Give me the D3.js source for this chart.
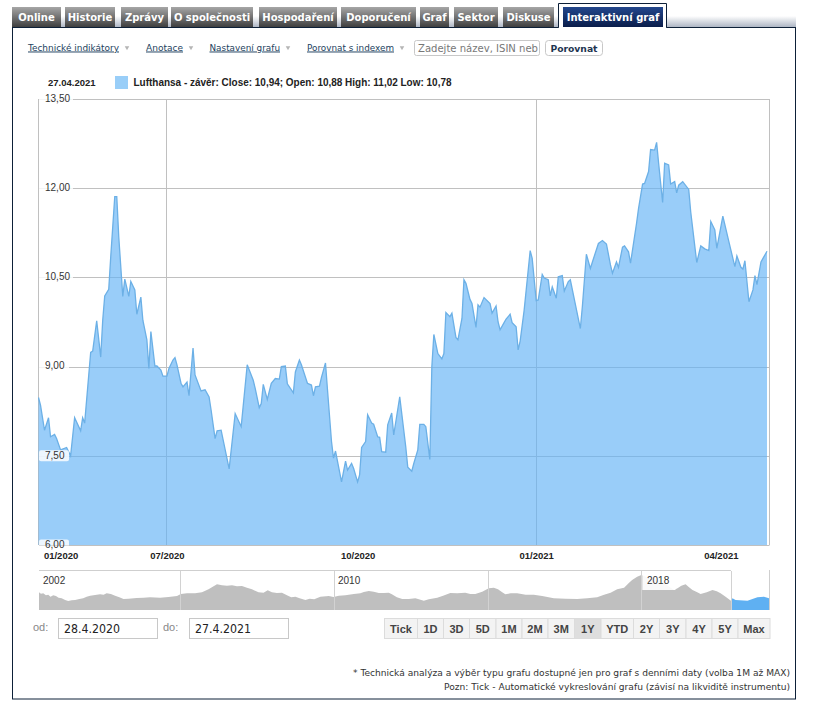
<!DOCTYPE html>
<html>
<head>
<meta charset="utf-8">
<script src="https://cdnjs.cloudflare.com/ajax/libs/d3/7.8.5/d3.min.js"></script>
<style>
body { margin: 0; background: #fff; }
svg { display: block; }
text { font-family: "Liberation Sans", Arial, sans-serif; }
</style>
</head>
<body>
<svg id="page" width="822" height="712"></svg>
<script>
// Closing prices, days counted from 28.4.2020
var startDate = new Date(2020, 3, 28)
var endDate = new Date(2021, 3, 27)
var dayOffsets = [
    0,1,3,5,6,8,9,11,14,16,
    18,21,22,23,26,27,29,31,32,33,
    35,36,38,39,40,42,43,45,46,48,
    49,51,52,54,55,56,58,59,61,62,
    64,65,67,68,69,71,72,74,75,77,
    78,81,83,85,86,88,89,91,95,98,
    101,104,107,108,110,111,112,114,116,118,
    120,121,123,124,127,128,130,131,134,136,
    137,138,140,141,143,144,146,147,148,151,
    153,154,156,157,159,160,161,163,164,166,
    167,169,170,171,173,174,176,177,180,183,
    184,186,187,189,190,192,193,195,196,197,
    199,201,202,203,205,206,208,209,211,212,
    213,215,216,218,219,220,222,225,226,228,
    229,230,232,233,235,236,238,239,240,242,
    245,246,248,249,251,252,254,255,256,258,
    259,261,262,264,265,270,271,273,275,276,
    279,281,283,285,286,288,289,291,292,294,
    295,298,299,301,302,304,305,307,308,309,
    311,312,314,315,317,318,319,321,324,325,
    328,330,332,334,335,337,338,341,344,347,
    348,350,351,352,354,356,357,358,360,361,363
]
var closes = [
    8.48,8.35,7.93,8.14,7.82,7.86,7.79,7.60,7.64,7.50,
    8.14,7.92,8.14,8.05,9.24,9.26,9.77,9.16,9.78,10.19,
    10.30,10.85,11.86,11.86,11.18,10.18,10.47,10.18,10.43,10.29,
    9.88,10.17,9.78,9.45,8.97,9.59,9.01,9.01,8.94,8.84,
    8.84,8.97,9.11,9.15,9.03,8.72,8.66,8.74,8.51,9.31,
    8.86,8.59,8.61,8.49,8.27,7.79,7.92,7.93,7.28,8.21,
    7.99,9.03,8.77,8.63,8.31,8.38,8.70,8.45,8.72,8.80,
    8.79,9.00,9.01,8.71,8.56,8.91,9.11,9.03,8.72,8.69,
    8.51,8.66,8.67,8.82,9.06,8.61,7.74,7.46,7.58,7.06,
    7.41,7.26,7.37,7.29,7.06,7.18,7.64,7.74,8.19,8.05,
    8.03,7.82,7.81,7.57,7.56,8.02,8.22,7.85,8.49,7.65,
    7.31,7.24,7.37,7.60,8.03,8.03,7.99,7.44,9.00,9.54,
    9.22,9.13,9.22,9.91,9.84,9.90,9.49,9.45,9.81,10.46,
    10.40,10.13,10.06,9.66,10.04,10.00,10.16,10.06,9.90,10.02,
    9.75,9.62,9.74,9.80,9.88,9.74,9.67,9.28,9.43,9.95,
    10.95,10.82,10.11,10.12,10.55,10.49,10.46,10.19,10.34,10.15,
    10.51,10.53,10.27,10.43,10.46,9.64,10.01,10.89,10.65,10.76,
    11.07,11.12,11.06,10.71,10.57,10.76,10.67,11.01,11.03,10.93,
    10.74,11.41,11.66,12.07,12.08,12.28,12.65,12.64,12.77,12.42,
    11.76,12.42,12.39,12.07,12.11,11.92,12.05,12.11,11.98,11.60,
    10.75,11.03,10.98,10.95,11.44,11.30,10.99,11.53,11.10,10.68,
    10.86,10.67,10.64,10.78,10.09,10.29,10.53,10.38,10.76,10.82,10.94
]
var yTicks = [6, 7.5, 9, 10.5, 12, 13.5]
var xLabels = ["01/2020", "07/2020", "10/2020", "01/2021", "04/2021"]
var xLabelDates = [new Date(2020, 4, 9), new Date(2020, 6, 1), new Date(2020, 9, 4), new Date(2021, 0, 1), new Date(2021, 3, 3)]
var xGridDates = [new Date(2020, 6, 1), new Date(2021, 0, 1)]

// Overview strip, whole history
var navYears = [
    2002.33,2002.38,2002.44,2002.51,2002.57,2002.63,2002.70,2002.77,2002.84,2002.92,
    2003.01,2003.09,2003.18,2003.27,2003.38,2003.48,2003.57,2003.66,2003.79,2003.92,
    2004.01,2004.09,2004.20,2004.31,2004.42,2004.53,2004.66,2004.87,2005.05,2005.22,
    2005.48,2005.70,2005.92,2006.02,2006.18,2006.39,2006.57,2006.74,2006.85,2006.96,
    2007.09,2007.22,2007.35,2007.48,2007.61,2007.74,2007.87,2008.04,2008.17,2008.28,
    2008.39,2008.52,2008.65,2008.78,2008.89,2009.00,2009.11,2009.26,2009.37,2009.49,
    2009.65,2009.87,2009.99,2010.13,2010.30,2010.52,2010.69,2010.78,2010.91,2011.04,
    2011.17,2011.30,2011.43,2011.51,2011.64,2011.78,2011.95,2012.12,2012.21,2012.34,
    2012.47,2012.69,2012.86,2013.03,2013.21,2013.42,2013.55,2013.68,2013.86,2014.03,
    2014.16,2014.27,2014.38,2014.46,2014.60,2014.77,2014.99,2015.20,2015.42,2015.72,
    2016.03,2016.33,2016.59,2016.85,2017.03,2017.20,2017.37,2017.55,2017.68,2017.76,
    2017.89,2018.00,2018.15,2018.50,2018.85,2018.94,2019.04,2019.15,2019.24,2019.33,
    2019.44,2019.54,2019.70,2019.85,2019.96,2020.06,2020.19,2020.33
]
var navValues = [
    14.7,13.6,13.9,12.2,12.8,11.1,12.2,11.7,10.3,9.7,
    8.3,7.5,8.1,8.3,9.2,9.7,11.1,11.9,12.5,13.1,
    12.8,13.9,13.3,11.9,10.6,9.2,9.4,10.0,10.3,10.6,
    10.3,10.8,11.7,13.3,13.9,13.9,14.7,17.2,19.4,21.4,
    20.6,20.3,20.6,19.7,20.0,18.6,17.2,14.7,14.4,16.4,
    14.7,14.2,14.4,12.2,10.6,11.1,9.7,8.3,9.4,8.9,
    11.1,11.7,10.8,11.9,12.2,13.3,13.9,15.0,15.8,15.3,
    14.2,14.2,14.4,13.1,10.6,9.2,9.2,9.7,8.9,7.8,
    8.9,10.3,12.0,14.2,13.9,14.4,13.3,13.3,15.3,18.1,
    18.6,17.2,14.7,13.1,13.9,13.9,12.8,12.8,11.7,9.7,
    9.4,9.2,9.7,10.6,12.8,14.4,17.2,18.6,22.8,25.0,
    27.8,29.2,27.2,24.4,16.7,18.1,20.3,21.4,19.0,16.7,
    15.0,13.3,14.7,16.7,15.6,13.9,11.1,7.8
]
var selYears = [2020.33,2020.37,2020.45,2020.76,2021.02,2021.19,2021.32]
var selValues = [7.8,9.7,8.3,7.8,10.6,11.1,9.7]
var navGridYears = [2006, 2010, 2014, 2018, 2020.33]
var navLabels = ["2002", "2010", "2018"]

// Page furniture
var tabs = ["Online", "Historie", "Zprávy", "O společnosti", "Hospodaření", "Doporučení", "Graf", "Sektor", "Diskuse"]
var toolLinks = ["Technické indikátory", "Anotace", "Nastavení grafu", "Porovnat s indexem"]
var rangeButtons = ["Tick", "1D", "3D", "5D", "1M", "2M", "3M", "1Y", "YTD", "2Y", "3Y", "4Y", "5Y", "Max"]

var svg = d3.select("#page")

var defs = svg.append("defs")
function gradient(id, top, bottom) {
    var g = defs.append("linearGradient").attr("id", id).attr("x1", 0).attr("x2", 0).attr("y1", 0).attr("y2", 1)
    g.append("stop").attr("offset", "0%").attr("stop-color", top)
    g.append("stop").attr("offset", "100%").attr("stop-color", bottom)
}
gradient("tabGrey", "#a6a6a6", "#3f3f3f")
gradient("tabBlue", "#23478d", "#0a1d4a")
gradient("band", "#ffffff", "#aeb6c4")
defs.append("clipPath").attr("id", "plotClip").append("rect")
    .attr("x", 38).attr("y", 90).attr("width", 733).attr("height", 455.5)

// Panel and tabs
svg.append("rect").attr("x", 12).attr("y", 16).attr("width", 784).attr("height", 11).attr("fill", "url(#band)")
svg.append("rect").attr("x", 12.5).attr("y", 27.5).attr("width", 783).attr("height", 671.5)
    .attr("fill", "#fff").attr("stroke", "#0d2038")

var tabLeft = [12, 65, 121, 171, 259, 341, 420, 454, 503]
var tabRight = [61, 115, 168, 253, 337, 416, 449, 498, 554]
tabs.forEach(function(name, i) {
    svg.append("rect").attr("x", tabLeft[i]).attr("y", 7).attr("width", tabRight[i] - tabLeft[i]).attr("height", 20)
        .attr("fill", "url(#tabGrey)")
    svg.append("text").attr("x", (tabLeft[i] + tabRight[i]) / 2).attr("y", 21).attr("text-anchor", "middle")
        .style("font-family", "'DejaVu Sans'").style("font-weight", "bold").style("font-size", "10px")
        .attr("fill", "#fff").text(name)
})
svg.append("path").attr("d", "M558.5,27.5V3.5H666.5V27.5").attr("fill", "#fff").attr("stroke", "#0d2038")
svg.append("rect").attr("x", 563).attr("y", 7).attr("width", 100).attr("height", 20).attr("fill", "url(#tabBlue)")
svg.append("rect").attr("x", 559).attr("y", 27).attr("width", 107).attr("height", 1).attr("fill", "#fff")
svg.append("text").attr("x", 613).attr("y", 21).attr("text-anchor", "middle")
    .style("font-family", "'DejaVu Sans'").style("font-weight", "bold").style("font-size", "10px")
    .attr("fill", "#fff").text("Interaktivní graf")

// Toolbar
var linkLeft = [28, 146, 209.5, 307]
var linkWidth = [91, 37, 70.5, 87]
toolLinks.forEach(function(name, i) {
    svg.append("text").attr("x", linkLeft[i]).attr("y", 50.5)
        .attr("textLength", linkWidth[i]).attr("lengthAdjust", "spacingAndGlyphs")
        .style("font-family", "'DejaVu Sans'").style("font-size", "9.5px")
        .attr("fill", "#1d3f5e").attr("text-decoration", "underline").text(name)
    svg.append("path").attr("d", d3.symbol().type(d3.symbolTriangle).size(9))
        .attr("transform", "translate(" + (linkLeft[i] + linkWidth[i] + 8) + ",47.5) rotate(180)")
        .attr("fill", "#b5b5b5")
})
svg.append("rect").attr("x", 414.5).attr("y", 40.5).attr("width", 125).attr("height", 15).attr("rx", 2)
    .attr("fill", "#fff").attr("stroke", "#c8c8c8")
svg.append("text").attr("x", 418).attr("y", 52).attr("textLength", 120).attr("lengthAdjust", "spacingAndGlyphs")
    .style("font-family", "'DejaVu Sans'").style("font-size", "10px").attr("fill", "#777").text("Zadejte název, ISIN neb")
svg.append("rect").attr("x", 545.5).attr("y", 40.5).attr("width", 57).attr("height", 15).attr("rx", 3)
    .attr("fill", "#fff").attr("stroke", "#c8c8c8")
svg.append("text").attr("x", 574).attr("y", 51.5).attr("text-anchor", "middle")
    .style("font-family", "'DejaVu Sans'").style("font-weight", "bold").style("font-size", "9.2px").attr("fill", "#1d3550").text("Porovnat")

// Legend
svg.append("text").attr("x", 48).attr("y", 86).style("font-weight", "bold").style("font-size", "9.5px").attr("fill", "#222").text("27.04.2021")
svg.append("rect").attr("x", 115).attr("y", 76).attr("width", 13).attr("height", 13).attr("fill", "#99cef8")
svg.append("text").attr("x", 133.5).attr("y", 86).attr("textLength", 318).attr("lengthAdjust", "spacingAndGlyphs")
    .style("font-weight", "bold").style("font-size", "10px").attr("fill", "#222")
    .text("Lufthansa - závěr: Close: 10,94; Open: 10,88 High: 11,02 Low: 10,78")

// Main chart
var points = dayOffsets.map(function(d, i) {
    return { date: d3.timeDay.offset(startDate, d), close: closes[i] }
})
var x = d3.scaleTime().domain([startDate, endDate]).range([38.5, 769])
var y = d3.scaleLinear().domain([6, 13.5]).range([545, 99])

var grid = svg.append("g").attr("stroke", "#c0c0c0").attr("fill", "none")
yTicks.forEach(function(t) {
    grid.append("line").attr("x1", 39).attr("x2", 769.5).attr("y1", Math.round(y(t)) + 0.5).attr("y2", Math.round(y(t)) + 0.5)
})
xGridDates.forEach(function(d) {
    grid.append("line").attr("x1", Math.floor(x(d)) + 0.5).attr("x2", Math.floor(x(d)) + 0.5).attr("y1", 99).attr("y2", 545)
})
grid.append("line").attr("x1", 38.5).attr("x2", 38.5).attr("y1", 99).attr("y2", 545)
grid.append("line").attr("x1", 769.5).attr("x2", 769.5).attr("y1", 99).attr("y2", 545)

var area = d3.area().x(function(d) { return x(d.date) }).y0(y(6)).y1(function(d) { return y(d.close) })
var line = d3.line().x(function(d) { return x(d.date) }).y(function(d) { return y(d.close) })
svg.append("path").datum(points).attr("d", area).attr("fill", "#62b2f6").attr("fill-opacity", 0.65)
svg.append("path").datum(points).attr("d", line).attr("fill", "none").attr("stroke", "#6cb0e6").attr("stroke-width", 1.3)

// Tick labels sit in small white boxes over the area
var boxes = svg.append("g").attr("clip-path", "url(#plotClip)")
yTicks.forEach(function(t) {
    boxes.append("rect").attr("x", 39).attr("y", y(t) - 5.5).attr("width", t >= 10 ? 34 : 30).attr("height", 11).attr("rx", 2)
        .attr("fill", "#fff").attr("fill-opacity", 0.82)
})
var yAxis = d3.axisRight(y).tickValues(yTicks).tickSize(0).tickPadding(6)
    .tickFormat(function(d) { return d3.format(".2f")(d).replace(".", ",") })
var yG = svg.append("g").attr("transform", "translate(39,-1)").call(yAxis)
yG.select(".domain").remove()
yG.selectAll("text").style("font-family", "'Liberation Sans'").style("font-size", "10px").attr("fill", "#333")

var xAxis = d3.axisBottom(x).tickValues(xLabelDates).tickSize(0).tickPadding(7)
    .tickFormat(function(d, i) { return xLabels[i] })
var xG = svg.append("g").attr("transform", "translate(0,545)").call(xAxis)
xG.select(".domain").remove()
xG.selectAll("text").style("font-family", "'Liberation Sans'").style("font-weight", "bold").style("font-size", "9.5px").attr("fill", "#222")

// Overview strip
var navX = d3.scaleLinear().domain([2002.33, 2021.32]).range([39, 769])
var navY = d3.scaleLinear().domain([0, 33]).range([610, 570.4])
var navArea = d3.area().x(function(d) { return navX(d[0]) }).y0(navY(0)).y1(function(d) { return navY(d[1]) })

svg.append("line").attr("x1", 39).attr("x2", navX(2020.33)).attr("y1", 570.5).attr("y2", 570.5).attr("stroke", "#cfcfcf")
svg.append("line").attr("x1", 769.5).attr("x2", 769.5).attr("y1", 570).attr("y2", 610).attr("stroke", "#cfcfcf")
svg.append("path").datum(d3.zip(navYears, navValues)).attr("d", navArea).attr("fill", "#bfbfbf")
svg.append("path").datum(d3.zip(selYears, selValues)).attr("d", navArea).attr("fill", "#5fb0f2")
navGridYears.forEach(function(yr) {
    svg.append("line").attr("x1", Math.round(navX(yr)) + 0.5).attr("x2", Math.round(navX(yr)) + 0.5).attr("y1", 571).attr("y2", 610)
        .attr("stroke", "#d2d2d2")
})
svg.append("rect").attr("x", navX(2018) + 1).attr("y", 571).attr("width", 33).attr("height", 19).attr("fill", "#fff").attr("fill-opacity", 0.9)
var navLabelX = [43, 338, 647]
navLabels.forEach(function(name, i) {
    svg.append("text").attr("x", navLabelX[i]).attr("y", 584).style("font-size", "10px").attr("fill", "#333").text(name)
})

// Date inputs
svg.append("text").attr("x", 33).attr("y", 631).style("font-size", "11px").attr("fill", "#888").text("od:")
svg.append("text").attr("x", 163).attr("y", 631).style("font-size", "11px").attr("fill", "#888").text("do:")
var dateBoxLeft = [58, 189]
var dateTexts = ["28.4.2020", "27.4.2021"]
dateTexts.forEach(function(t, i) {
    svg.append("rect").attr("x", dateBoxLeft[i] + 0.5).attr("y", 618.5).attr("width", 99).attr("height", 20)
        .attr("fill", "#fff").attr("stroke", "#c8c8c8")
    svg.append("text").attr("x", dateBoxLeft[i] + 6).attr("y", 633).attr("textLength", 56).attr("lengthAdjust", "spacingAndGlyphs")
        .style("font-family", "'DejaVu Sans'").style("font-size", "11.5px").attr("fill", "#222").text(t)
})

// Range buttons
var buttonEdges = [384, 417, 443, 469, 495.5, 521.5, 547.5, 574, 600.5, 633, 659, 685.5, 711.5, 737.5, 769.5]
rangeButtons.forEach(function(name, i) {
    svg.append("rect").attr("x", buttonEdges[i] + 0.5).attr("y", 618.5)
        .attr("width", buttonEdges[i + 1] - buttonEdges[i]).attr("height", 20)
        .attr("fill", name == "1Y" ? "#dedede" : "#f3f3f3").attr("stroke", "#dcdcdc")
    svg.append("text").attr("x", (buttonEdges[i] + buttonEdges[i + 1]) / 2 + 0.5).attr("y", 632.5).attr("text-anchor", "middle")
        .style("font-weight", "bold").style("font-size", "11px").attr("fill", "#444").text(name)
})

// Footnotes
svg.append("text").attr("x", 353).attr("y", 675.5).attr("textLength", 437).attr("lengthAdjust", "spacingAndGlyphs")
    .style("font-family", "'DejaVu Sans'").style("font-size", "9.5px").attr("fill", "#333")
    .text("* Technická analýza a výběr typu grafu dostupné jen pro graf s denními daty (volba 1M až MAX)")
svg.append("text").attr("x", 444).attr("y", 690).attr("textLength", 346).attr("lengthAdjust", "spacingAndGlyphs")
    .style("font-family", "'DejaVu Sans'").style("font-size", "9.5px").attr("fill", "#333")
    .text("Pozn: Tick - Automatické vykreslování grafu (závisí na likviditě instrumentu)")
</script>
</body>
</html>
